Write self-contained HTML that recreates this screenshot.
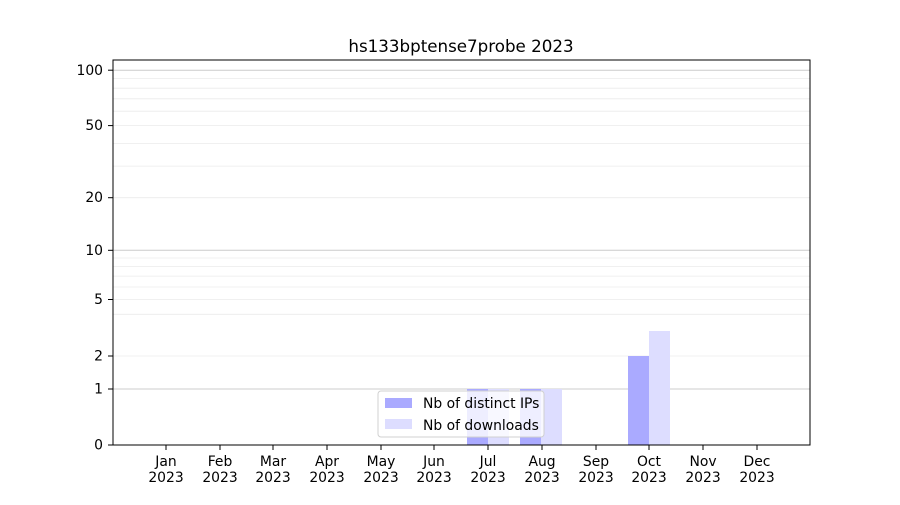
<!DOCTYPE html>
<html><head><meta charset="utf-8"><style>body{margin:0;background:#fff}</style></head><body>
<svg width="900" height="500" xmlns="http://www.w3.org/2000/svg" font-family="DejaVu Sans, Liberation Sans, sans-serif" font-size="13.9">
<rect width="900" height="500" fill="#fff"/>
<g stroke="#ebebeb" stroke-width="0.8">
<line x1="113" x2="810" y1="356" y2="356"/><line x1="113" x2="810" y1="314.3" y2="314.3"/><line x1="113" x2="810" y1="299.5" y2="299.5"/><line x1="113" x2="810" y1="287" y2="287"/><line x1="113" x2="810" y1="276.1" y2="276.1"/><line x1="113" x2="810" y1="266.6" y2="266.6"/><line x1="113" x2="810" y1="258" y2="258"/>
<line x1="113" x2="810" y1="197.7" y2="197.7"/><line x1="113" x2="810" y1="166.1" y2="166.1"/><line x1="113" x2="810" y1="143.4" y2="143.4"/><line x1="113" x2="810" y1="125.6" y2="125.6"/><line x1="113" x2="810" y1="111.2" y2="111.2"/><line x1="113" x2="810" y1="98.8" y2="98.8"/><line x1="113" x2="810" y1="88.2" y2="88.2"/><line x1="113" x2="810" y1="78.6" y2="78.6"/>
</g>
<g stroke="#cccccc" stroke-width="1">
<line x1="113" x2="810" y1="389" y2="389"/><line x1="113" x2="810" y1="250.3" y2="250.3"/><line x1="113" x2="810" y1="70.2" y2="70.2"/>
</g>
<g fill="#aaaaff">
<rect x="467" y="389" width="21" height="56"/><rect x="520" y="389" width="21" height="56"/><rect x="628" y="356" width="21" height="89"/>
</g>
<g fill="#ddddff">
<rect x="488" y="389" width="21" height="56"/><rect x="541" y="389" width="21" height="56"/><rect x="649" y="331" width="21" height="114"/>
</g>
<rect x="113" y="60" width="697" height="385" fill="none" stroke="#000" stroke-width="1"/>
<text x="461" y="52" text-anchor="middle" font-size="16.7">hs133bptense7probe 2023</text>
<g text-anchor="end">
<text x="103" y="449.5">0</text><text x="103" y="393.5">1</text><text x="103" y="360.5">2</text><text x="103" y="304">5</text><text x="103" y="255">10</text><text x="103" y="202">20</text><text x="103" y="130">50</text><text x="103" y="75">100</text>
</g>
<g stroke="#000"><line x1="108" x2="113" y1="445" y2="445"/><line x1="108" x2="113" y1="389" y2="389"/><line x1="108" x2="113" y1="356" y2="356"/><line x1="108" x2="113" y1="299.5" y2="299.5"/><line x1="108" x2="113" y1="250.3" y2="250.3"/><line x1="108" x2="113" y1="197.7" y2="197.7"/><line x1="108" x2="113" y1="125.6" y2="125.6"/><line x1="108" x2="113" y1="70.2" y2="70.2"/></g>
<g text-anchor="middle">
<text x="166" y="466">Jan</text><text x="166" y="482">2023</text>
<text x="220" y="466">Feb</text><text x="220" y="482">2023</text>
<text x="273" y="466">Mar</text><text x="273" y="482">2023</text>
<text x="327" y="466">Apr</text><text x="327" y="482">2023</text>
<text x="381" y="466">May</text><text x="381" y="482">2023</text>
<text x="434" y="466">Jun</text><text x="434" y="482">2023</text>
<text x="488" y="466">Jul</text><text x="488" y="482">2023</text>
<text x="542" y="466">Aug</text><text x="542" y="482">2023</text>
<text x="596" y="466">Sep</text><text x="596" y="482">2023</text>
<text x="649" y="466">Oct</text><text x="649" y="482">2023</text>
<text x="703" y="466">Nov</text><text x="703" y="482">2023</text>
<text x="757" y="466">Dec</text><text x="757" y="482">2023</text>
</g>
<g stroke="#000">
<line x1="166" x2="166" y1="445" y2="450"/><line x1="220" x2="220" y1="445" y2="450"/><line x1="273" x2="273" y1="445" y2="450"/><line x1="327" x2="327" y1="445" y2="450"/><line x1="381" x2="381" y1="445" y2="450"/><line x1="434" x2="434" y1="445" y2="450"/><line x1="488" x2="488" y1="445" y2="450"/><line x1="542" x2="542" y1="445" y2="450"/><line x1="596" x2="596" y1="445" y2="450"/><line x1="649" x2="649" y1="445" y2="450"/><line x1="703" x2="703" y1="445" y2="450"/><line x1="757" x2="757" y1="445" y2="450"/>
</g>
<rect x="378" y="391" width="166" height="46" rx="3" fill="#fff" fill-opacity="0.8" stroke="#d0d0d0"/>
<rect x="385" y="398" width="27" height="10" fill="#aaaaff"/>
<rect x="385" y="419" width="27" height="10" fill="#ddddff"/>
<text x="423" y="408">Nb of distinct IPs</text>
<text x="423" y="430">Nb of downloads</text>
</svg>
</body></html>
